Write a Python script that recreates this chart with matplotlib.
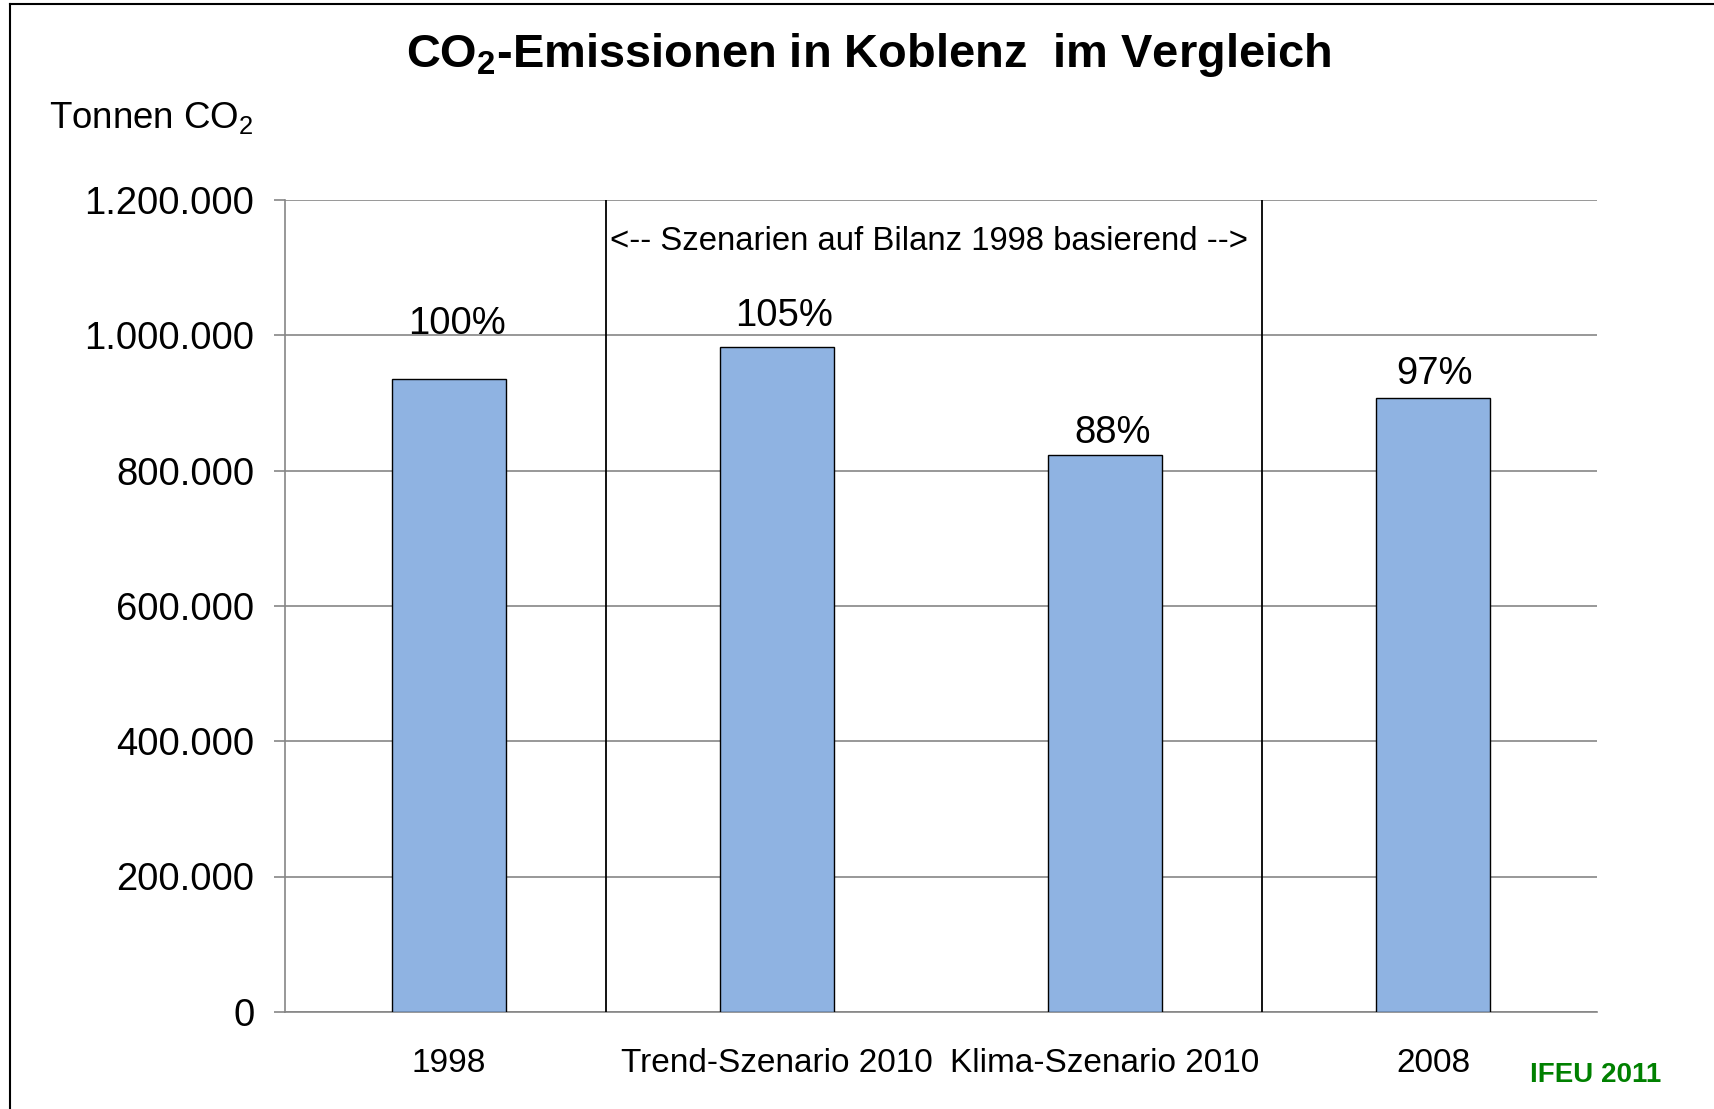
import matplotlib
matplotlib.use('Agg')
import matplotlib.pyplot as plt
import numpy as np
from matplotlib.ticker import FuncFormatter
from matplotlib.lines import Line2D

plt.rcParams['font.family'] = ['Liberation Sans', 'DejaVu Sans']
plt.rcParams['mathtext.fontset'] = 'custom'
plt.rcParams['mathtext.rm'] = 'Liberation Sans'
plt.rcParams['mathtext.bf'] = 'Liberation Sans:bold'
plt.rcParams['mathtext.default'] = 'regular'

# data
categories = ['1998', 'Trend-Szenario 2010', 'Klima-Szenario 2010', '2008']
emissions = [936000, 983000, 823000, 908000]
percent_labels = ['100%', '105%', '88%', '97%']
label_offsets = [81000, 45000, 32000, 35000]
label_shift = [0.025, 0.022, 0.022, 0.006]
yticks = [0, 200000, 400000, 600000, 800000, 1000000, 1200000]
scenario_bounds = [0.478, 2.478]

W, H = 1715, 1109
fig = plt.figure(figsize=(W / 100, H / 100), dpi=100)
ax = fig.add_axes([285 / W, 1 - 1011.8 / H, (1597 - 285) / W, (1011.8 - 200) / H])

x = np.arange(len(categories))
ax.bar(x, emissions, width=0.35, color='#8FB3E2', edgecolor='black', linewidth=1, zorder=3)

ax.set_xlim(-0.5, 3.5)
ax.set_ylim(0, 1200000)
ax.set_yticks(yticks)
ax.yaxis.set_major_formatter(FuncFormatter(lambda v, p: f'{int(v):,}'.replace(',', '.')))
ax.set_xticks(x)
ax.set_xticklabels(categories)
ax.set_axisbelow(True)
ax.grid(axis='y', color='#868686', lw=1.2)

for s in ['top', 'right']:
    ax.spines[s].set_visible(False)
for s in ['left', 'bottom']:
    ax.spines[s].set_color('#868686')
    ax.spines[s].set_linewidth(1.2)

ax.tick_params(axis='y', direction='out', length=8, width=1.2, color='#868686', pad=14, labelsize=27.5)
ax.tick_params(axis='x', length=0, pad=26, labelsize=24)

# scenario separators
ax.vlines(scenario_bounds, 0, 1200000, colors='black', lw=1.3, zorder=4)
ax.text(scenario_bounds[0] + 0.013, 1138000, '<-- Szenarien auf Bilanz 1998 basierend -->',
        fontsize=23.7, ha='left', va='center')

for xi, v, lab, off, sh in zip(x, emissions, percent_labels, label_offsets, label_shift):
    ax.text(xi + sh, v + off, lab, ha='center', va='center', fontsize=27.5)

fig.text(869 / W, 1 - 67 / H, r'CO$_2$-Emissionen in Koblenz  im Vergleich',
         ha='center', va='baseline', fontsize=33.8, fontweight='bold')
fig.text(254 / W, 1 - 128 / H, r'Tonnen CO$_2$', ha='right', va='baseline', fontsize=26.4)
fig.text(1596 / W, 1 - 1075 / H, 'IFEU 2011', color='#008000', fontweight='bold',
         fontsize=20, ha='center', va='center')

# frame lines (left and top)
fig.add_artist(Line2D([10 / W, 10 / W], [0, 1 - 4 / H], transform=fig.transFigure, color='black', lw=1.5))
fig.add_artist(Line2D([10 / W, 1], [1 - 4 / H, 1 - 4 / H], transform=fig.transFigure, color='black', lw=1.5))

fig.savefig('out.png', dpi=100)
